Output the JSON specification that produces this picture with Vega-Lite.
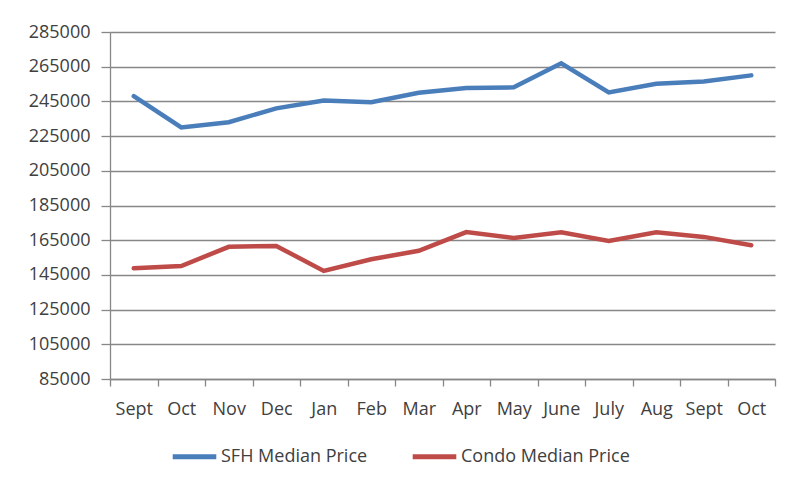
{
  "$schema": "https://vega.github.io/schema/vega-lite/v6.json",
  "width": 665,
  "height": 347,
  "autosize": {"type": "none"},
  "padding": {"left": 110, "top": 32, "right": 16, "bottom": 106},
  "background": "white",
  "config": {
    "font": "Open Sans",
    "view": {"stroke": null},
    "axis": {"labelFont": "Open Sans", "labelFontSize": 18, "labelColor": "#404040", "domainColor": "#878787", "tickColor": "#878787", "gridColor": "#878787", "domainWidth": 1.3, "tickWidth": 1.3, "gridWidth": 1.3},
    "legend": {"labelFont": "Open Sans", "labelFontSize": 18, "labelColor": "#404040", "labelLimit": 400}
  },
  "data": {
    "values": [
      {"m": "Sept|1", "series": "SFH Median Price", "price": 248000},
      {"m": "Oct|1", "series": "SFH Median Price", "price": 230000},
      {"m": "Nov", "series": "SFH Median Price", "price": 233000},
      {"m": "Dec", "series": "SFH Median Price", "price": 241000},
      {"m": "Jan", "series": "SFH Median Price", "price": 245500},
      {"m": "Feb", "series": "SFH Median Price", "price": 244500},
      {"m": "Mar", "series": "SFH Median Price", "price": 250000},
      {"m": "Apr", "series": "SFH Median Price", "price": 252700},
      {"m": "May", "series": "SFH Median Price", "price": 253100},
      {"m": "June", "series": "SFH Median Price", "price": 267000},
      {"m": "July", "series": "SFH Median Price", "price": 250200},
      {"m": "Aug", "series": "SFH Median Price", "price": 255200},
      {"m": "Sept|2", "series": "SFH Median Price", "price": 256500},
      {"m": "Oct|2", "series": "SFH Median Price", "price": 260000},
      {"m": "Sept|1", "series": "Condo Median Price", "price": 148800},
      {"m": "Oct|1", "series": "Condo Median Price", "price": 150100},
      {"m": "Nov", "series": "Condo Median Price", "price": 161200},
      {"m": "Dec", "series": "Condo Median Price", "price": 161700},
      {"m": "Jan", "series": "Condo Median Price", "price": 147300},
      {"m": "Feb", "series": "Condo Median Price", "price": 154000},
      {"m": "Mar", "series": "Condo Median Price", "price": 158900},
      {"m": "Apr", "series": "Condo Median Price", "price": 169700},
      {"m": "May", "series": "Condo Median Price", "price": 166300},
      {"m": "June", "series": "Condo Median Price", "price": 169600},
      {"m": "July", "series": "Condo Median Price", "price": 164600},
      {"m": "Aug", "series": "Condo Median Price", "price": 169600},
      {"m": "Sept|2", "series": "Condo Median Price", "price": 166900},
      {"m": "Oct|2", "series": "Condo Median Price", "price": 162100}
    ]
  },
  "mark": {"type": "line", "strokeWidth": 4.5, "strokeCap": "round", "strokeJoin": "miter"},
  "encoding": {
    "x": {
      "field": "m",
      "type": "ordinal",
      "sort": null,
      "bandPosition": 0.5,
      "scale": {"type": "band", "paddingInner": 0, "paddingOuter": 0},
      "axis": {"title": null, "labelAngle": 0, "tickBand": "extent", "tickSize": 7, "labelPadding": 14, "grid": false, "labelExpr": "split(datum.label, '|')[0]"}
    },
    "y": {
      "field": "price",
      "type": "quantitative",
      "scale": {"domain": [85000, 285000], "nice": false, "zero": false},
      "axis": {"title": null, "values": [85000, 105000, 125000, 145000, 165000, 185000, 205000, 225000, 245000, 265000, 285000], "tickSize": 9, "labelPadding": 11, "format": "d", "grid": true}
    },
    "color": {
      "field": "series",
      "type": "nominal",
      "scale": {"domain": ["SFH Median Price", "Condo Median Price"], "range": ["#4A7EBB", "#BE4B48"]},
      "legend": {"title": null, "orient": "none", "direction": "horizontal", "legendX": 60, "legendY": 400, "symbolType": "stroke", "symbolSize": 1900, "symbolStrokeWidth": 5, "labelOffset": 2, "columnPadding": 34}
    }
  }
}
